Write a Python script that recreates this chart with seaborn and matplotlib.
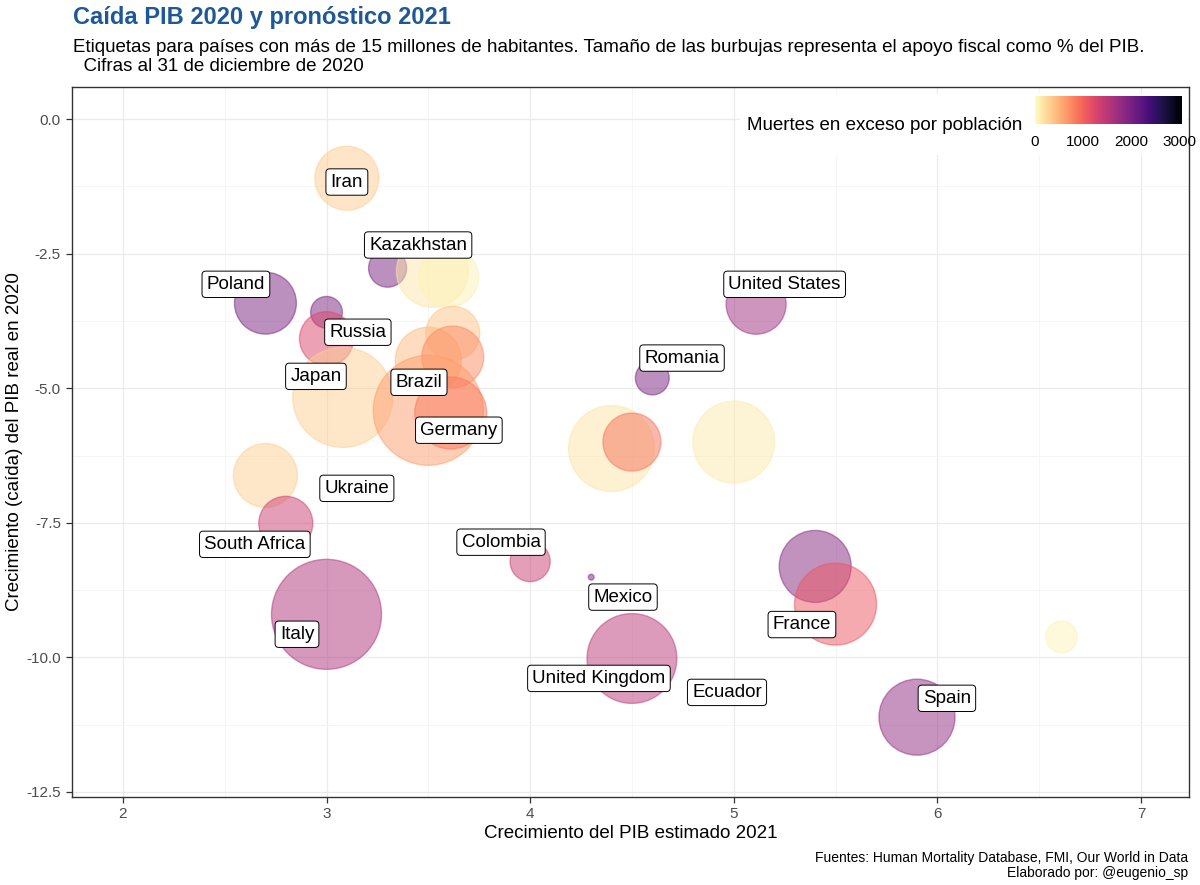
import numpy as np
import matplotlib
matplotlib.use("Agg")
import matplotlib.pyplot as plt
import seaborn as sns
from matplotlib.patches import Rectangle
from matplotlib.colors import Normalize
from matplotlib.cm import ScalarMappable

# Data
growth_2021 = [3.10, 3.30, 3.52, 3.60, 2.70, 3.00, 3.00, 3.08, 3.62, 3.50, 3.62, 3.50, 3.61,
               4.60, 5.11, 4.40, 4.50, 5.00, 2.70, 2.80, 3.00, 4.00, 4.30, 4.50, 5.40, 5.50,
               6.61, 5.90]
gdp_2020 = [-1.10, -2.77, -2.83, -2.94, -3.42, -3.59, -4.08, -5.17, -3.98, -4.48, -4.42, -5.41, -5.46,
            -4.81, -3.44, -6.12, -6.00, -6.00, -6.62, -7.51, -9.20, -8.22, -8.51, -10.02, -8.31, -9.01,
            -9.62, -11.11]
excess_deaths = [320, 1980, 150, 80, 1980, 1980, 1250, 300, 380, 430, 750, 620, 850,
                 1980, 1700, 160, 900, 120, 300, 1380, 1580, 1380, 1950, 1480, 1880, 1100,
                 60, 1800]
fiscal_support = [12.2, 4.3, 15.4, 10.7, 11.4, 3.0, 8.7, 29.8, 8.7, 13.0, 11.4, 36.0, 15.4,
                  3.4, 10.7, 22.0, 10.0, 20.0, 12.2, 8.7, 36.0, 4.8, 0.1, 24.0, 15.4, 20.0,
                  3.0, 17.2]

label_names = ["Iran", "Kazakhstan", "Poland", "Russia", "Japan", "Brazil", "Germany", "Ukraine",
               "South Africa", "Italy", "Colombia", "Mexico", "United Kingdom", "Ecuador",
               "France", "Spain", "Romania", "United States"]
label_x = [3.10, 3.45, 2.555, 3.154, 2.948, 3.454, 3.65, 3.149,
           2.648, 2.855, 3.857, 4.456, 4.338, 4.967,
           5.335, 6.047, 4.746, 5.25]
label_y = [-1.17, -2.34, -3.07, -3.96, -4.78, -4.89, -5.78, -6.86,
           -7.90, -9.57, -7.86, -8.88, -10.39, -10.65,
           -9.39, -10.76, -4.44, -3.07]

sns.set_style("white")
plt.rcParams['font.family'] = ['Liberation Sans', 'DejaVu Sans']
plt.rcParams['text.color'] = 'black'

W, H = 1200, 885
fig = plt.figure(figsize=(W / 100, H / 100), dpi=100)
ax = fig.add_axes([72 / W, 1 - 797 / H, (1189 - 72) / W, (797 - 87) / H])

vmin, vmax = 0, 3050
sns.scatterplot(x=growth_2021, y=gdp_2020, hue=excess_deaths, size=fiscal_support,
                palette="magma_r", hue_norm=(vmin, vmax), sizes=(0, 6273), size_norm=(0, 36),
                alpha=0.5, edgecolor="face", linewidth=1, legend=False, ax=ax, zorder=3)

for name, lx, ly in zip(label_names, label_x, label_y):
    ax.text(lx, ly, name, ha="center", va="center", fontsize=13.5, color="black", zorder=5,
            bbox=dict(boxstyle="round,pad=0.25,rounding_size=0.2", fc="white", ec="black", lw=0.7))

ax.set_xlim(1.75, 7.236)
ax.set_ylim(-12.593, 0.595)
ax.set_xticks([2, 3, 4, 5, 6, 7])
ax.set_xticklabels(["2", "3", "4", "5", "6", "7"])
ax.set_yticks([0, -2.5, -5, -7.5, -10, -12.5])
ax.set_yticklabels(["0.0", "-2.5", "-5.0", "-7.5", "-10.0", "-12.5"])
ax.set_xticks(np.arange(2.5, 7.0, 1.0), minor=True)
ax.set_yticks(np.arange(-11.25, 0.5, 2.5), minor=True)
ax.grid(which="major", color="#ebebeb", lw=0.9, zorder=0)
ax.grid(which="minor", color="#f4f4f4", lw=0.6, zorder=0)
ax.set_axisbelow(True)
ax.tick_params(which="major", bottom=True, left=True, direction="out", length=4, width=0.9,
               color="#333333", labelsize=11, labelcolor="#4d4d4d", pad=3)
ax.tick_params(which="minor", bottom=False, left=False, length=0)
ax.tick_params(axis="y", pad=4)
for sp in ax.spines.values():
    sp.set_color("#333333")
    sp.set_linewidth(1.0)
ax.set_xlabel("")
ax.set_ylabel("")

fig.text(0.5 * (72 + 1189) / W, 1 - 838 / H, "Crecimiento del PIB estimado 2021",
         ha="center", va="baseline", fontsize=13.5)
fig.text(15 / W, 1 - 442 / H, "Crecimiento (caída) del PIB real en 2020",
         ha="center", va="center", rotation=90, fontsize=13.5)

# titles
fig.text(73 / W, 1 - 24 / H, "Caída PIB 2020 y pronóstico 2021", ha="left", va="baseline",
         fontsize=17, fontweight="bold", color="#1f5896")
fig.text(73 / W, 1 - 52 / H,
         "Etiquetas para países con más de 15 millones de habitantes. Tamaño de las burbujas "
         "representa el apoyo fiscal como % del PIB.",
         ha="left", va="baseline", fontsize=13.5)
fig.text(73 / W, 1 - 71 / H, "  Cifras al 31 de diciembre de 2020", ha="left", va="baseline",
         fontsize=13.5)

# caption
fig.text(1188 / W, 1 - 862 / H, "Fuentes: Human Mortality Database, FMI, Our World in Data",
         ha="right", va="baseline", fontsize=10)
fig.text(1188 / W, 1 - 877 / H, "Elaborado por: @eugenio_sp", ha="right", va="baseline",
         fontsize=10)

# colour legend
bg = Rectangle((740 / W, 1 - 155 / H), 448 / W, 61 / H, transform=fig.transFigure,
               fc="white", ec="none", zorder=1)
fig.add_artist(bg)
cax = fig.add_axes([1035 / W, 1 - 124 / H, 147 / W, 28 / H])
cax.set_zorder(2)
sm = ScalarMappable(norm=Normalize(vmin, vmax), cmap="magma_r")
cb = fig.colorbar(sm, cax=cax, orientation="horizontal", ticks=[0, 1000, 2000, 3000])
cb.outline.set_visible(False)
cax.xaxis.set_ticks_position("both")
cax.tick_params(axis="x", direction="in", length=5, width=1, color="white",
                labelsize=11, labelcolor="black", pad=8, labeltop=False, labelbottom=True)
fig.text(1022 / W, 1 - 125 / H, "Muertes en exceso por población", ha="right", va="center",
         fontsize=13.5, zorder=3)

fig.savefig("out.png", dpi=100)
